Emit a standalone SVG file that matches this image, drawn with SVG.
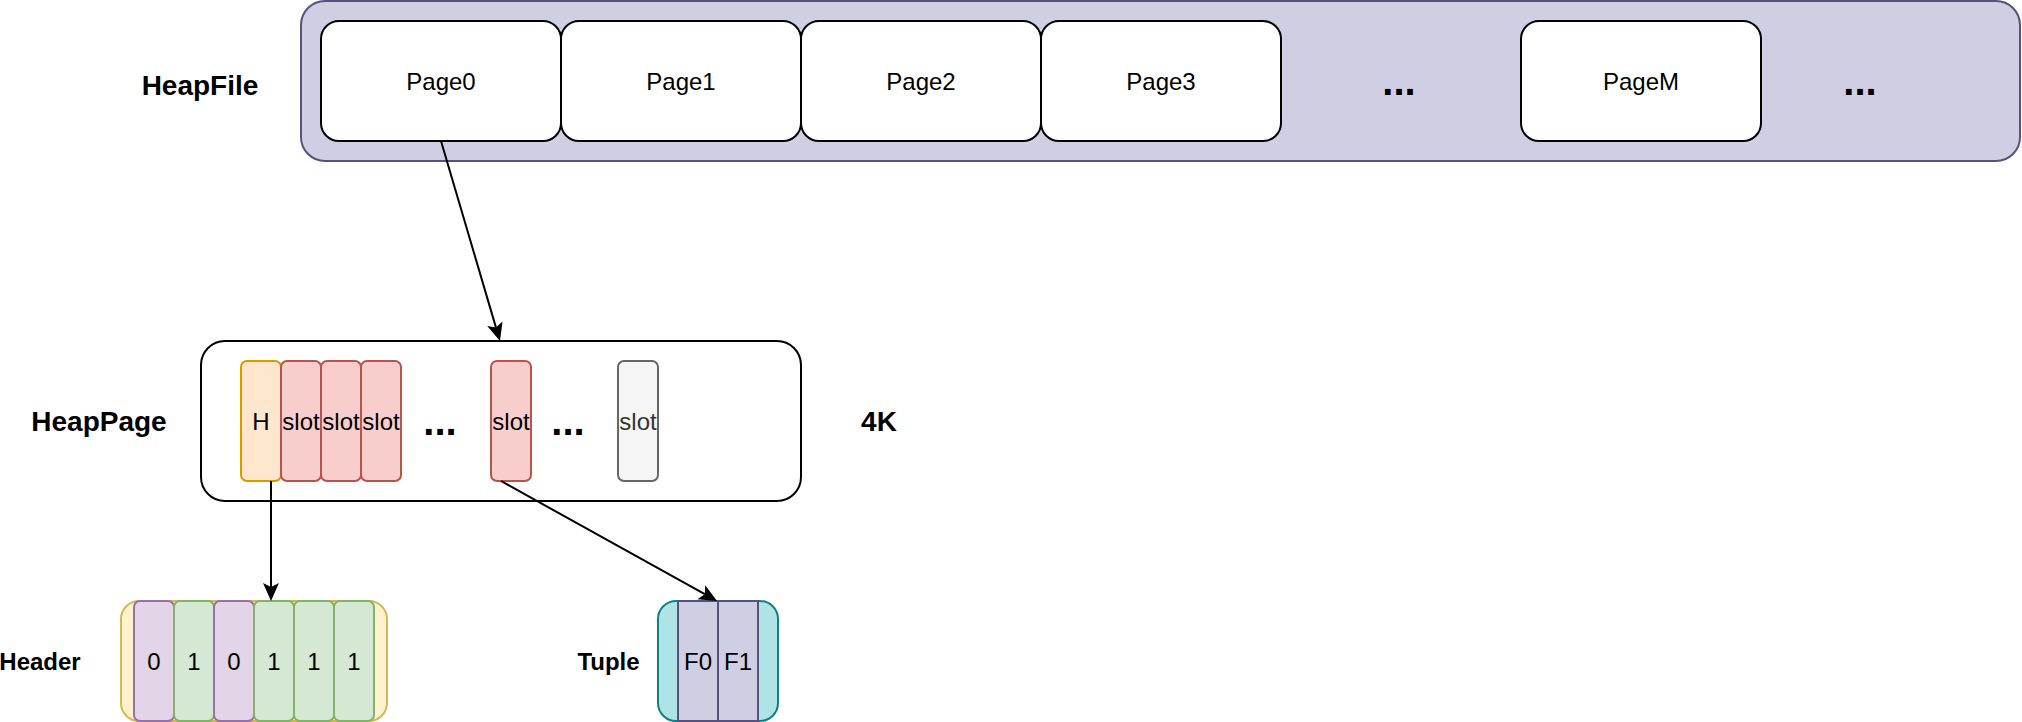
<svg xmlns="http://www.w3.org/2000/svg" width="2022" height="722" viewBox="0 0 2022 722">
<defs>
<style>
text{font-family:"Liberation Sans",Arial,sans-serif;text-anchor:middle;fill:#000}
.lbl{font-size:28px;font-weight:bold}
.sm{font-size:24px;font-weight:bold}
.t{font-size:24px}
.dots{font-size:40px;font-weight:bold}
.page{fill:#fff;stroke:#000;stroke-width:2}
.slot{fill:#f8cecc;stroke:#b85450;stroke-width:2}
.c0{fill:#e1d5e7;stroke:#9673a6;stroke-width:2}
.c1{fill:#d5e8d4;stroke:#82b366;stroke-width:2}
.f{fill:#d0cee2;stroke:#56517e;stroke-width:2}
.conn{stroke:#000;stroke-width:2;fill:none}
</style>
<marker id="arr" markerUnits="userSpaceOnUse" markerWidth="20" markerHeight="18" viewBox="0 0 20 18" refX="4" refY="8" orient="auto">
<path d="M0,0 L18,8 L0,16 L4,8 Z" fill="#000"/>
</marker>
</defs>
<g id="heapfile">
<rect x="301" y="1" width="1719" height="160" rx="24" fill="#d0cee2" stroke="#56517e" stroke-width="2"/>
<text class="lbl" x="200" y="94.5">HeapFile</text>
</g>
<g id="page0"><rect class="page" x="321" y="21" width="240" height="120" rx="18"/><text class="t" x="441" y="90">Page0</text></g>
<g id="page1"><rect class="page" x="561" y="21" width="240" height="120" rx="18"/><text class="t" x="681" y="90">Page1</text></g>
<g id="page2"><rect class="page" x="801" y="21" width="240" height="120" rx="18"/><text class="t" x="921" y="90">Page2</text></g>
<g id="page3"><rect class="page" x="1041" y="21" width="240" height="120" rx="18"/><text class="t" x="1161" y="90">Page3</text></g>
<g id="dots1"><text class="dots" x="1399" y="95">...</text></g>
<g id="pagem"><rect class="page" x="1521" y="21" width="240" height="120" rx="18"/><text class="t" x="1641" y="90">PageM</text></g>
<g id="dots2"><text class="dots" x="1860" y="95">...</text></g>

<g id="heappage">
<rect x="201" y="341" width="600" height="160" rx="24" fill="#fff" stroke="#000" stroke-width="2"/>
<text class="lbl" x="99" y="431">HeapPage</text>
<text class="lbl" x="879" y="431">4K</text>
</g>
<g id="h"><rect x="241" y="361" width="40" height="120" rx="6" fill="#ffe6cc" stroke="#d79b00" stroke-width="2"/><text class="t" x="261" y="430">H</text></g>
<g id="slot1"><rect class="slot" x="281" y="361" width="40" height="120" rx="6"/><text class="t" x="301" y="430">slot</text></g>
<g id="slot2"><rect class="slot" x="321" y="361" width="40" height="120" rx="6"/><text class="t" x="341" y="430">slot</text></g>
<g id="slot3"><rect class="slot" x="361" y="361" width="40" height="120" rx="6"/><text class="t" x="381" y="430">slot</text></g>
<g id="dots3"><text class="dots" x="440" y="435">...</text></g>
<g id="slotn"><rect class="slot" x="491" y="361" width="40" height="120" rx="6"/><text class="t" x="511" y="430">slot</text></g>
<g id="dots4"><text class="dots" x="568" y="435">...</text></g>
<g id="slotfree"><rect x="618" y="361" width="40" height="120" rx="6" fill="#f5f5f5" stroke="#666666" stroke-width="2"/><text class="t" x="638" y="430" style="fill:#333333">slot</text></g>

<g id="header">
<text class="sm" x="40" y="669.5">Header</text>
<rect x="121" y="601" width="266" height="120" rx="18" fill="#fff2cc" stroke="#d6b656" stroke-width="2"/>
<rect class="c0" x="134" y="601" width="40" height="120" rx="6"/><text class="t" x="154" y="670">0</text>
<rect class="c1" x="174" y="601" width="40" height="120" rx="6"/><text class="t" x="194" y="670">1</text>
<rect class="c0" x="214" y="601" width="40" height="120" rx="6"/><text class="t" x="234" y="670">0</text>
<rect class="c1" x="254" y="601" width="40" height="120" rx="6"/><text class="t" x="274" y="670">1</text>
<rect class="c1" x="294" y="601" width="40" height="120" rx="6"/><text class="t" x="314" y="670">1</text>
<rect class="c1" x="334" y="601" width="40" height="120" rx="6"/><text class="t" x="354" y="670">1</text>
</g>
<g id="tuple">
<text class="sm" x="608.5" y="669.5">Tuple</text>
<rect x="658" y="601" width="120" height="120" rx="18" fill="#b0e3e6" stroke="#0e8088" stroke-width="2"/>
<rect class="f" x="678" y="601" width="40" height="120" rx="0"/><text class="t" x="698" y="670">F0</text>
<rect class="f" x="718" y="601" width="40" height="120" rx="0"/><text class="t" x="738" y="670">F1</text>
</g>

<g id="connectors">
<line class="conn" x1="441" y1="141" x2="496" y2="327.6" marker-end="url(#arr)"/>
<line class="conn" x1="271" y1="481" x2="271" y2="587" marker-end="url(#arr)"/>
<line class="conn" x1="501" y1="481" x2="704.8" y2="594.2" marker-end="url(#arr)"/>
</g>
</svg>
